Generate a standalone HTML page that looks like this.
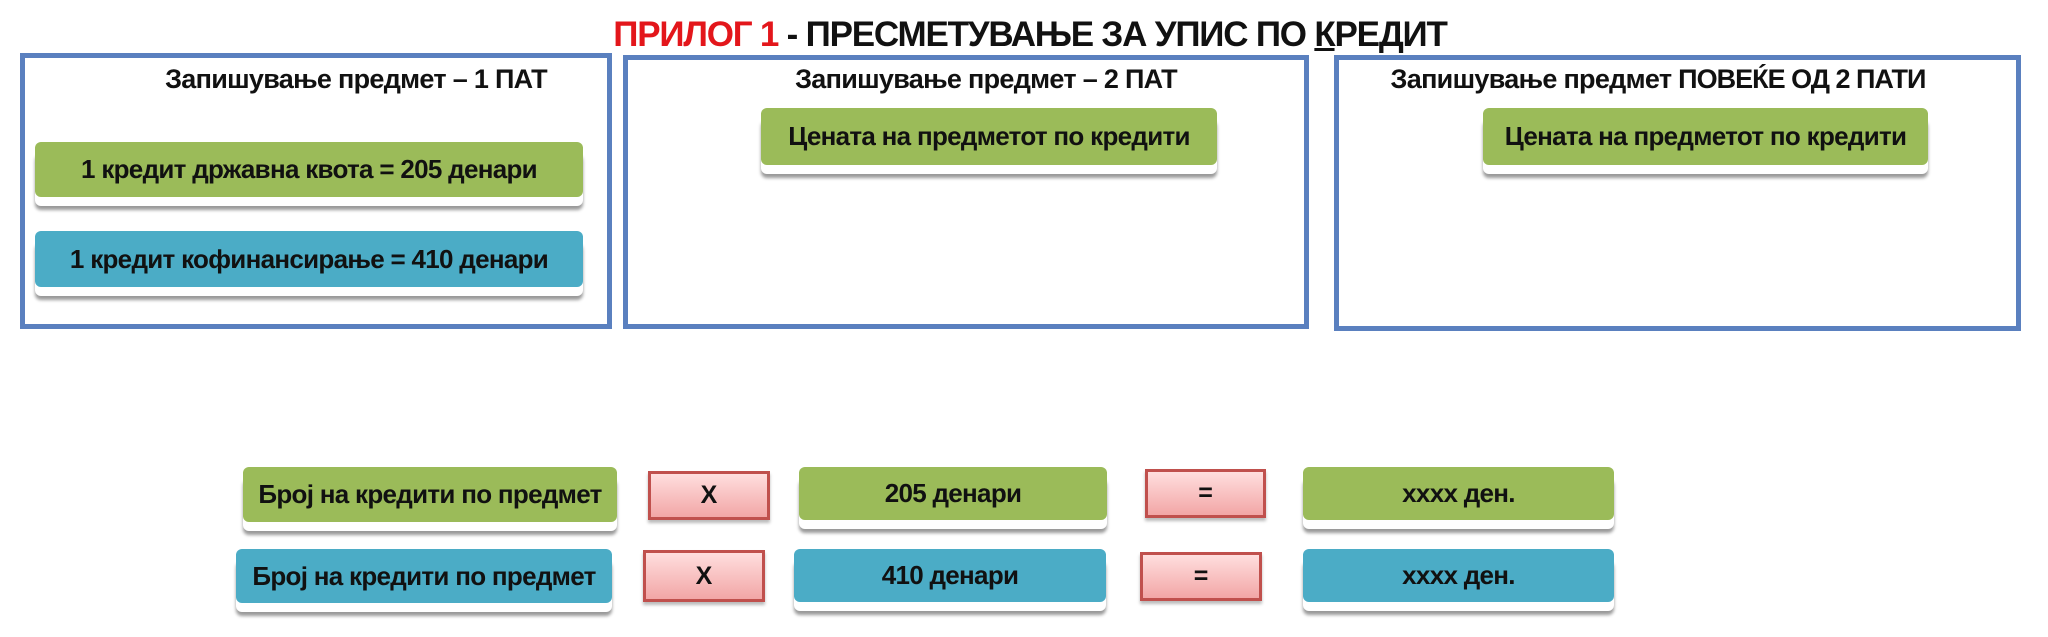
<!DOCTYPE html>
<html><head><meta charset="utf-8"><style>
body{margin:0;width:2048px;height:637px;background:#fff;position:relative;overflow:hidden;font-family:"Liberation Sans","DejaVu Sans",sans-serif;font-weight:bold;color:#111}
.a{position:absolute}
.frame{position:absolute;border:5px solid #5a80bf;box-sizing:border-box}
.bt{position:absolute;font-size:27px;white-space:nowrap;letter-spacing:-0.7px;text-align:center}
.s{position:absolute;display:flex;align-items:center;justify-content:center;font-size:26px;letter-spacing:-0.7px;white-space:nowrap;border-radius:6px;box-sizing:border-box;
box-shadow:0 9px 0 0 #fff,0 13px 3px 0 #9a9a9a}
.g{background:#9bbb59}
.b{background:#4bacc6}
.p{position:absolute;display:flex;align-items:center;justify-content:center;font-size:25px;background:linear-gradient(#ffdede,#f2a6a6);border:3px solid #c0504d;box-sizing:border-box;box-shadow:0 3px 3px #bbb}
</style></head><body>
<div class="a" style="left:530px;top:15px;width:1000px;text-align:center;font-size:35px;white-space:nowrap;letter-spacing:-1.2px"><span style="color:#e3161b">ПРИЛОГ 1</span> - ПРЕСМЕТУВАЊЕ ЗА УПИС ПО <u>К</u>РЕДИТ</div>

<div class="frame" style="left:20px;top:53px;width:592px;height:276px"></div>
<div class="frame" style="left:623px;top:55px;width:686px;height:274px"></div>
<div class="frame" style="left:1334px;top:55px;width:687px;height:276px"></div>

<div class="bt" style="left:143px;top:64px;width:426px">Запишување предмет – 1 ПАТ</div>
<div class="bt" style="left:773px;top:64px;width:426px">Запишување предмет – 2 ПАТ</div>
<div class="bt" style="left:1340px;top:64px;width:636px">Запишување предмет <span style="letter-spacing:-1px">ПОВЕЌЕ ОД 2 ПАТИ</span></div>

<div class="s g" style="left:35px;top:142px;width:548px;height:55px">1 кредит државна квота = 205 денари</div>
<div class="s b" style="left:35px;top:231px;width:548px;height:56px">1 кредит кофинансирање = 410 денари</div>
<div class="s g" style="left:761px;top:108px;width:456px;height:57px">Цената на предметот по кредити</div>
<div class="s g" style="left:1483px;top:108px;width:445px;height:57px">Цената на предметот по кредити</div>

<div class="s g" style="left:243px;top:467px;width:374px;height:55px">Број на кредити по предмет</div>
<div class="p" style="left:648px;top:471px;width:122px;height:49px">X</div>
<div class="s g" style="left:799px;top:467px;width:308px;height:53px">205 денари</div>
<div class="p" style="left:1145px;top:469px;width:121px;height:49px">=</div>
<div class="s g" style="left:1303px;top:467px;width:311px;height:53px">xxxx ден.</div>

<div class="s b" style="left:236px;top:549px;width:376px;height:54px">Број на кредити по предмет</div>
<div class="p" style="left:643px;top:550px;width:122px;height:52px">X</div>
<div class="s b" style="left:794px;top:549px;width:312px;height:53px">410 денари</div>
<div class="p" style="left:1140px;top:552px;width:122px;height:49px">=</div>
<div class="s b" style="left:1303px;top:549px;width:311px;height:53px">xxxx ден.</div>
</body></html>
